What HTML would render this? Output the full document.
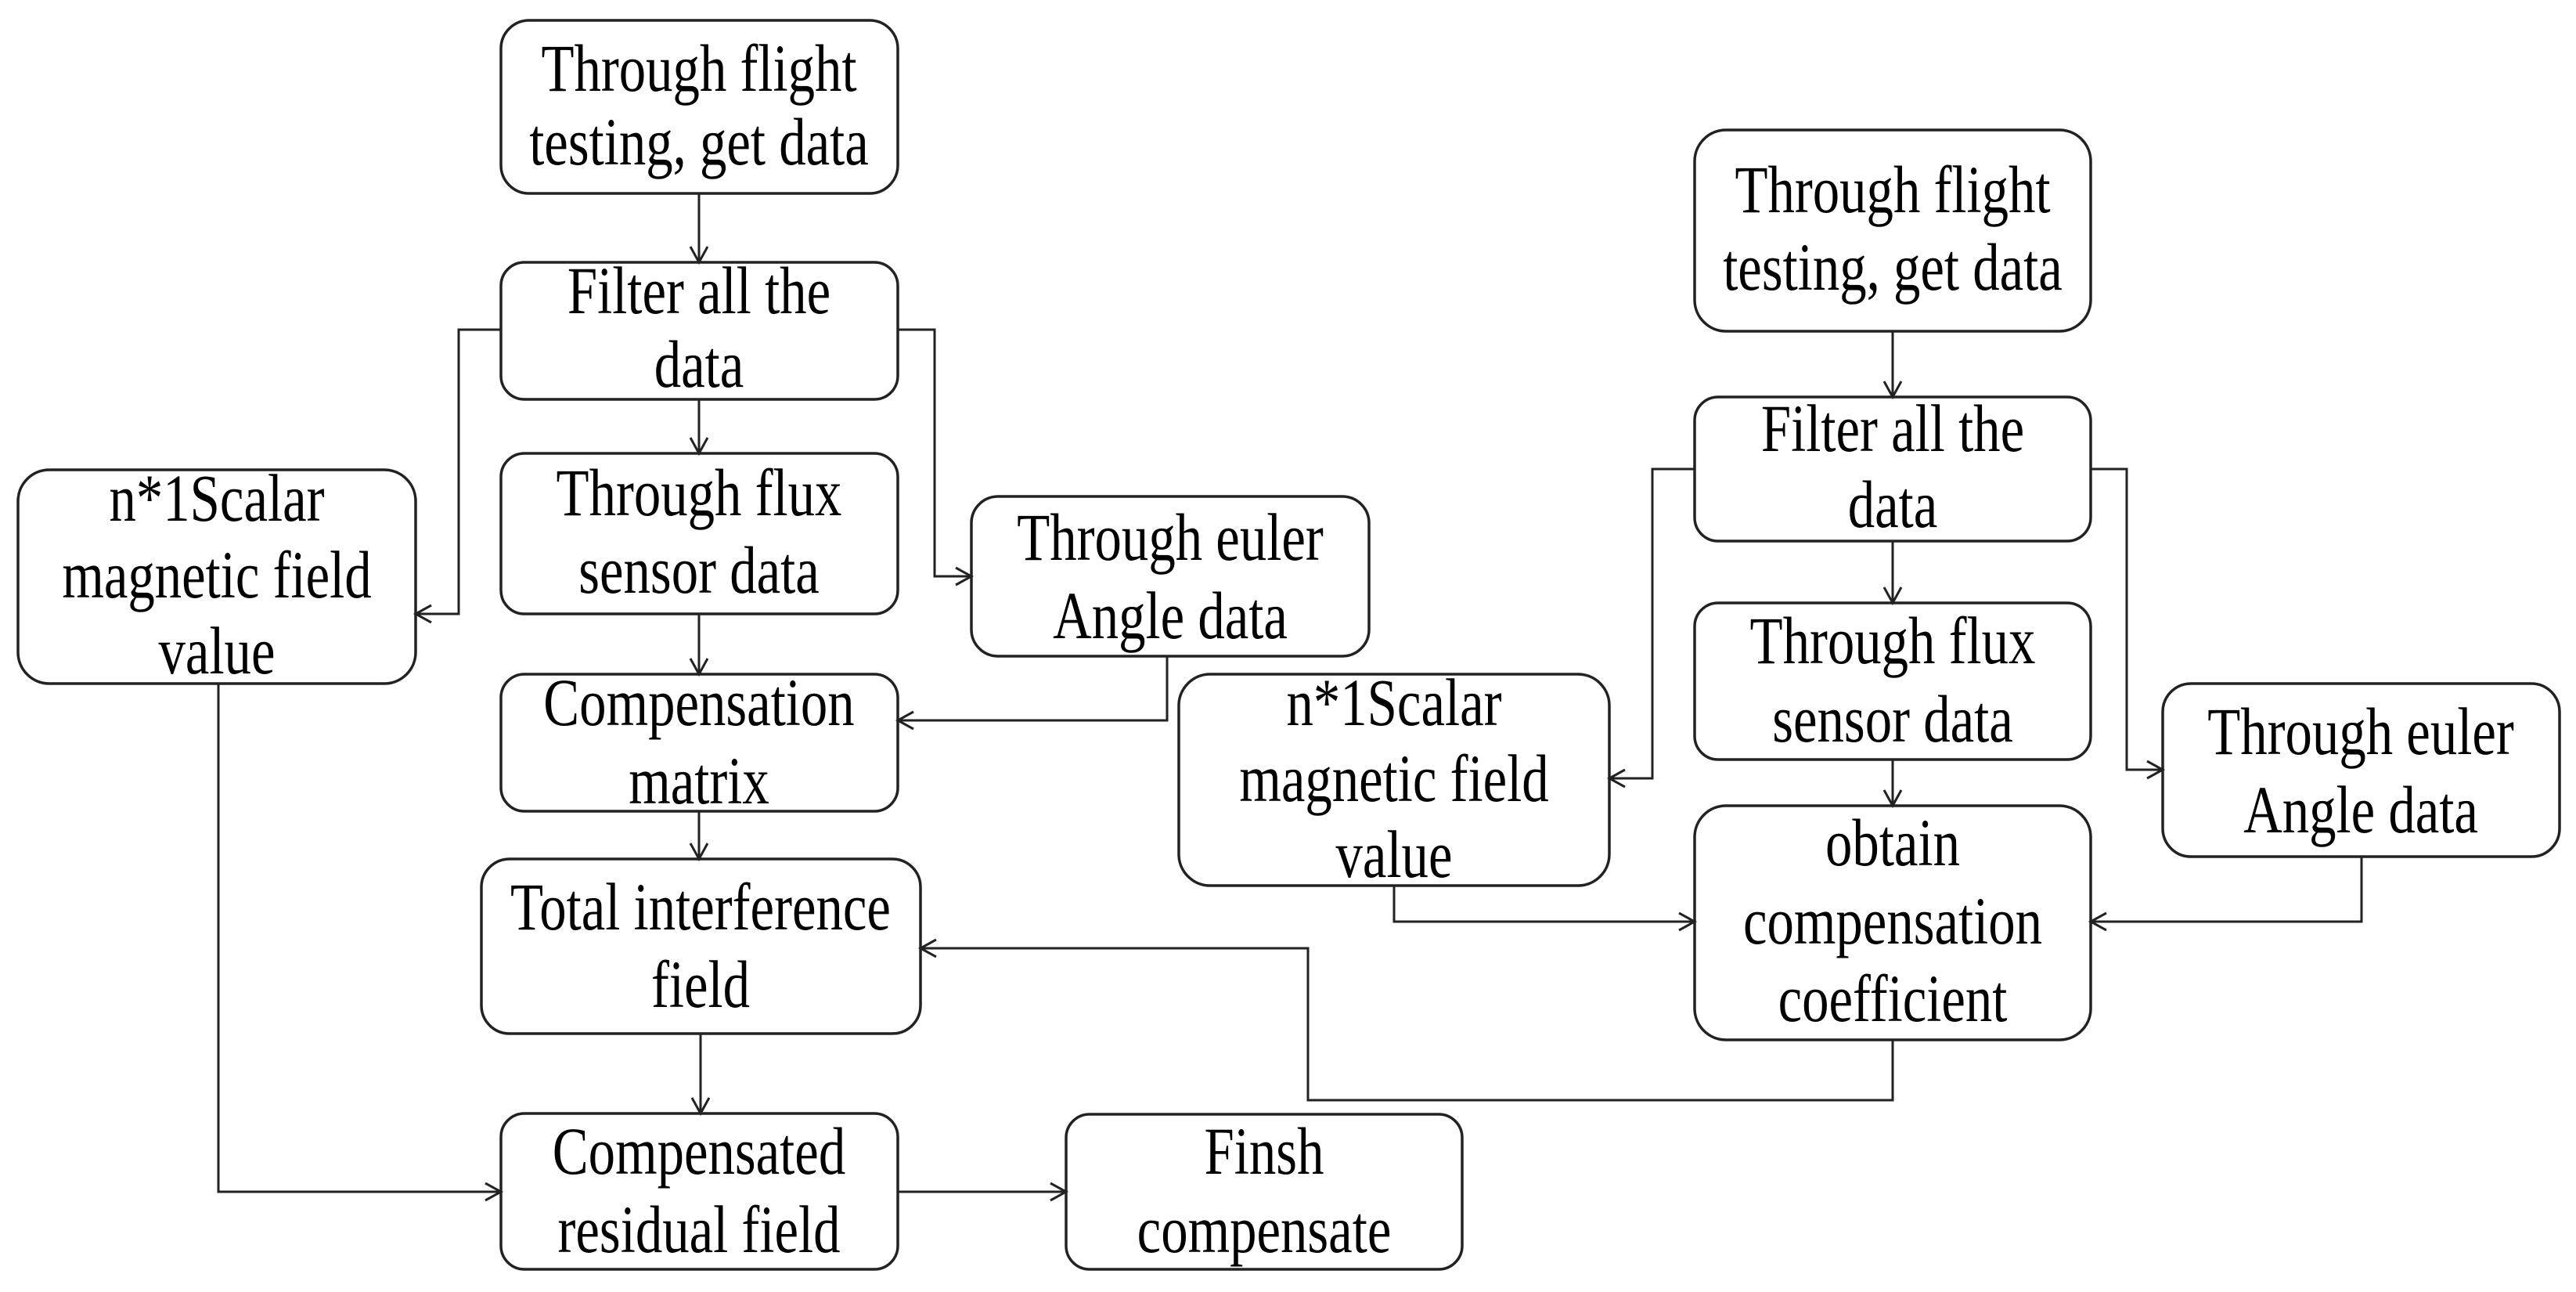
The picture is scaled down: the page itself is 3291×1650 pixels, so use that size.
<!DOCTYPE html>
<html><head><meta charset="utf-8"><style>
html,body{margin:0;padding:0;background:#fff;}
svg{display:block;}
text{font-family:"Liberation Serif","Times New Roman","DejaVu Serif",serif;font-size:86px;fill:#000;}
</style></head><body>
<svg width="3291" height="1650" viewBox="0 0 3291 1650" xmlns="http://www.w3.org/2000/svg">
<defs>
<marker id="a" markerWidth="30" markerHeight="30" refX="22" refY="12" orient="auto" markerUnits="userSpaceOnUse">
<path d="M2,1 L22,12 L2,23" fill="none" stroke="#222" stroke-width="3"/>
</marker>
</defs>
<g fill="#fff" stroke="#222" stroke-width="3.5">
<rect x="640" y="26" width="507" height="221" rx="36"/>
<rect x="640" y="335" width="507" height="175" rx="30"/>
<rect x="640" y="579" width="507" height="205" rx="30"/>
<rect x="640" y="861" width="507" height="175" rx="30"/>
<rect x="615" y="1097" width="561" height="223" rx="36"/>
<rect x="640" y="1422" width="507" height="199" rx="30"/>
<rect x="23" y="600" width="508" height="273" rx="40"/>
<rect x="1241" y="634" width="508" height="204" rx="34"/>
<rect x="1362" y="1423" width="506" height="198" rx="30"/>
<rect x="2165" y="166" width="506" height="257" rx="40"/>
<rect x="2165" y="507" width="506" height="184" rx="30"/>
<rect x="2165" y="770" width="506" height="200" rx="30"/>
<rect x="2165" y="1029" width="506" height="299" rx="40"/>
<rect x="1506" y="861" width="550" height="270" rx="40"/>
<rect x="2763" y="873" width="507" height="221" rx="36"/>
</g>
<g fill="none" stroke="#222" stroke-width="3">
<path d="M893,247 V335" marker-end="url(#a)"/>
<path d="M893,510 V579" marker-end="url(#a)"/>
<path d="M893,784 V861" marker-end="url(#a)"/>
<path d="M893,1036 V1097" marker-end="url(#a)"/>
<path d="M895,1320 V1422" marker-end="url(#a)"/>
<path d="M640,421 H586 V784 H531" marker-end="url(#a)"/>
<path d="M1147,421 H1194 V736 H1241" marker-end="url(#a)"/>
<path d="M1491,838 V920 H1147" marker-end="url(#a)"/>
<path d="M279,873 V1522 H640" marker-end="url(#a)"/>
<path d="M1147,1522 H1362" marker-end="url(#a)"/>
<path d="M2418,423 V507" marker-end="url(#a)"/>
<path d="M2418,691 V770" marker-end="url(#a)"/>
<path d="M2418,970 V1029" marker-end="url(#a)"/>
<path d="M2165,599 H2111 V994 H2056" marker-end="url(#a)"/>
<path d="M2671,599 H2717 V983 H2763" marker-end="url(#a)"/>
<path d="M1781,1131 V1177 H2165" marker-end="url(#a)"/>
<path d="M3017,1094 V1177 H2671" marker-end="url(#a)"/>
<path d="M2418,1328 V1405 H1671 V1211 H1176" marker-end="url(#a)"/>
</g>
<g text-anchor="middle" font-family="Liberation Serif, Times New Roman, DejaVu Serif, serif">
<text transform="translate(893,116) scale(0.8,1)">Through flight</text>
<text transform="translate(893,210) scale(0.8,1)">testing, get data</text>
<text transform="translate(893,400) scale(0.8,1)">Filter all the</text>
<text transform="translate(893,494) scale(0.8,1)">data</text>
<text transform="translate(893,658) scale(0.8,1)">Through flux</text>
<text transform="translate(893,757) scale(0.8,1)">sensor data</text>
<text transform="translate(893,926) scale(0.8,1)">Compensation</text>
<text transform="translate(893,1026) scale(0.8,1)">matrix</text>
<text transform="translate(895,1187) scale(0.8,1)">Total interference</text>
<text transform="translate(895,1286) scale(0.8,1)">field</text>
<text transform="translate(893,1499) scale(0.8,1)">Compensated</text>
<text transform="translate(893,1599) scale(0.8,1)">residual field</text>
<text transform="translate(277,665) scale(0.8,1)">n*1Scalar</text>
<text transform="translate(277,763) scale(0.8,1)">magnetic field</text>
<text transform="translate(277,860) scale(0.8,1)">value</text>
<text transform="translate(1495,715) scale(0.8,1)">Through euler</text>
<text transform="translate(1495,815) scale(0.8,1)">Angle data</text>
<text transform="translate(1615,1499) scale(0.8,1)">Finsh</text>
<text transform="translate(1615,1599) scale(0.8,1)">compensate</text>
<text transform="translate(2418,271) scale(0.8,1)">Through flight</text>
<text transform="translate(2418,370) scale(0.8,1)">testing, get data</text>
<text transform="translate(2418,576) scale(0.8,1)">Filter all the</text>
<text transform="translate(2418,673) scale(0.8,1)">data</text>
<text transform="translate(2418,847) scale(0.8,1)">Through flux</text>
<text transform="translate(2418,947) scale(0.8,1)">sensor data</text>
<text transform="translate(2418,1105) scale(0.8,1)">obtain</text>
<text transform="translate(2418,1205) scale(0.8,1)">compensation</text>
<text transform="translate(2418,1304) scale(0.8,1)">coefficient</text>
<text transform="translate(1781,926) scale(0.8,1)">n*1Scalar</text>
<text transform="translate(1781,1023) scale(0.8,1)">magnetic field</text>
<text transform="translate(1781,1120) scale(0.8,1)">value</text>
<text transform="translate(3016,963) scale(0.8,1)">Through euler</text>
<text transform="translate(3016,1063) scale(0.8,1)">Angle data</text>
</g>
</svg>
</body></html>
